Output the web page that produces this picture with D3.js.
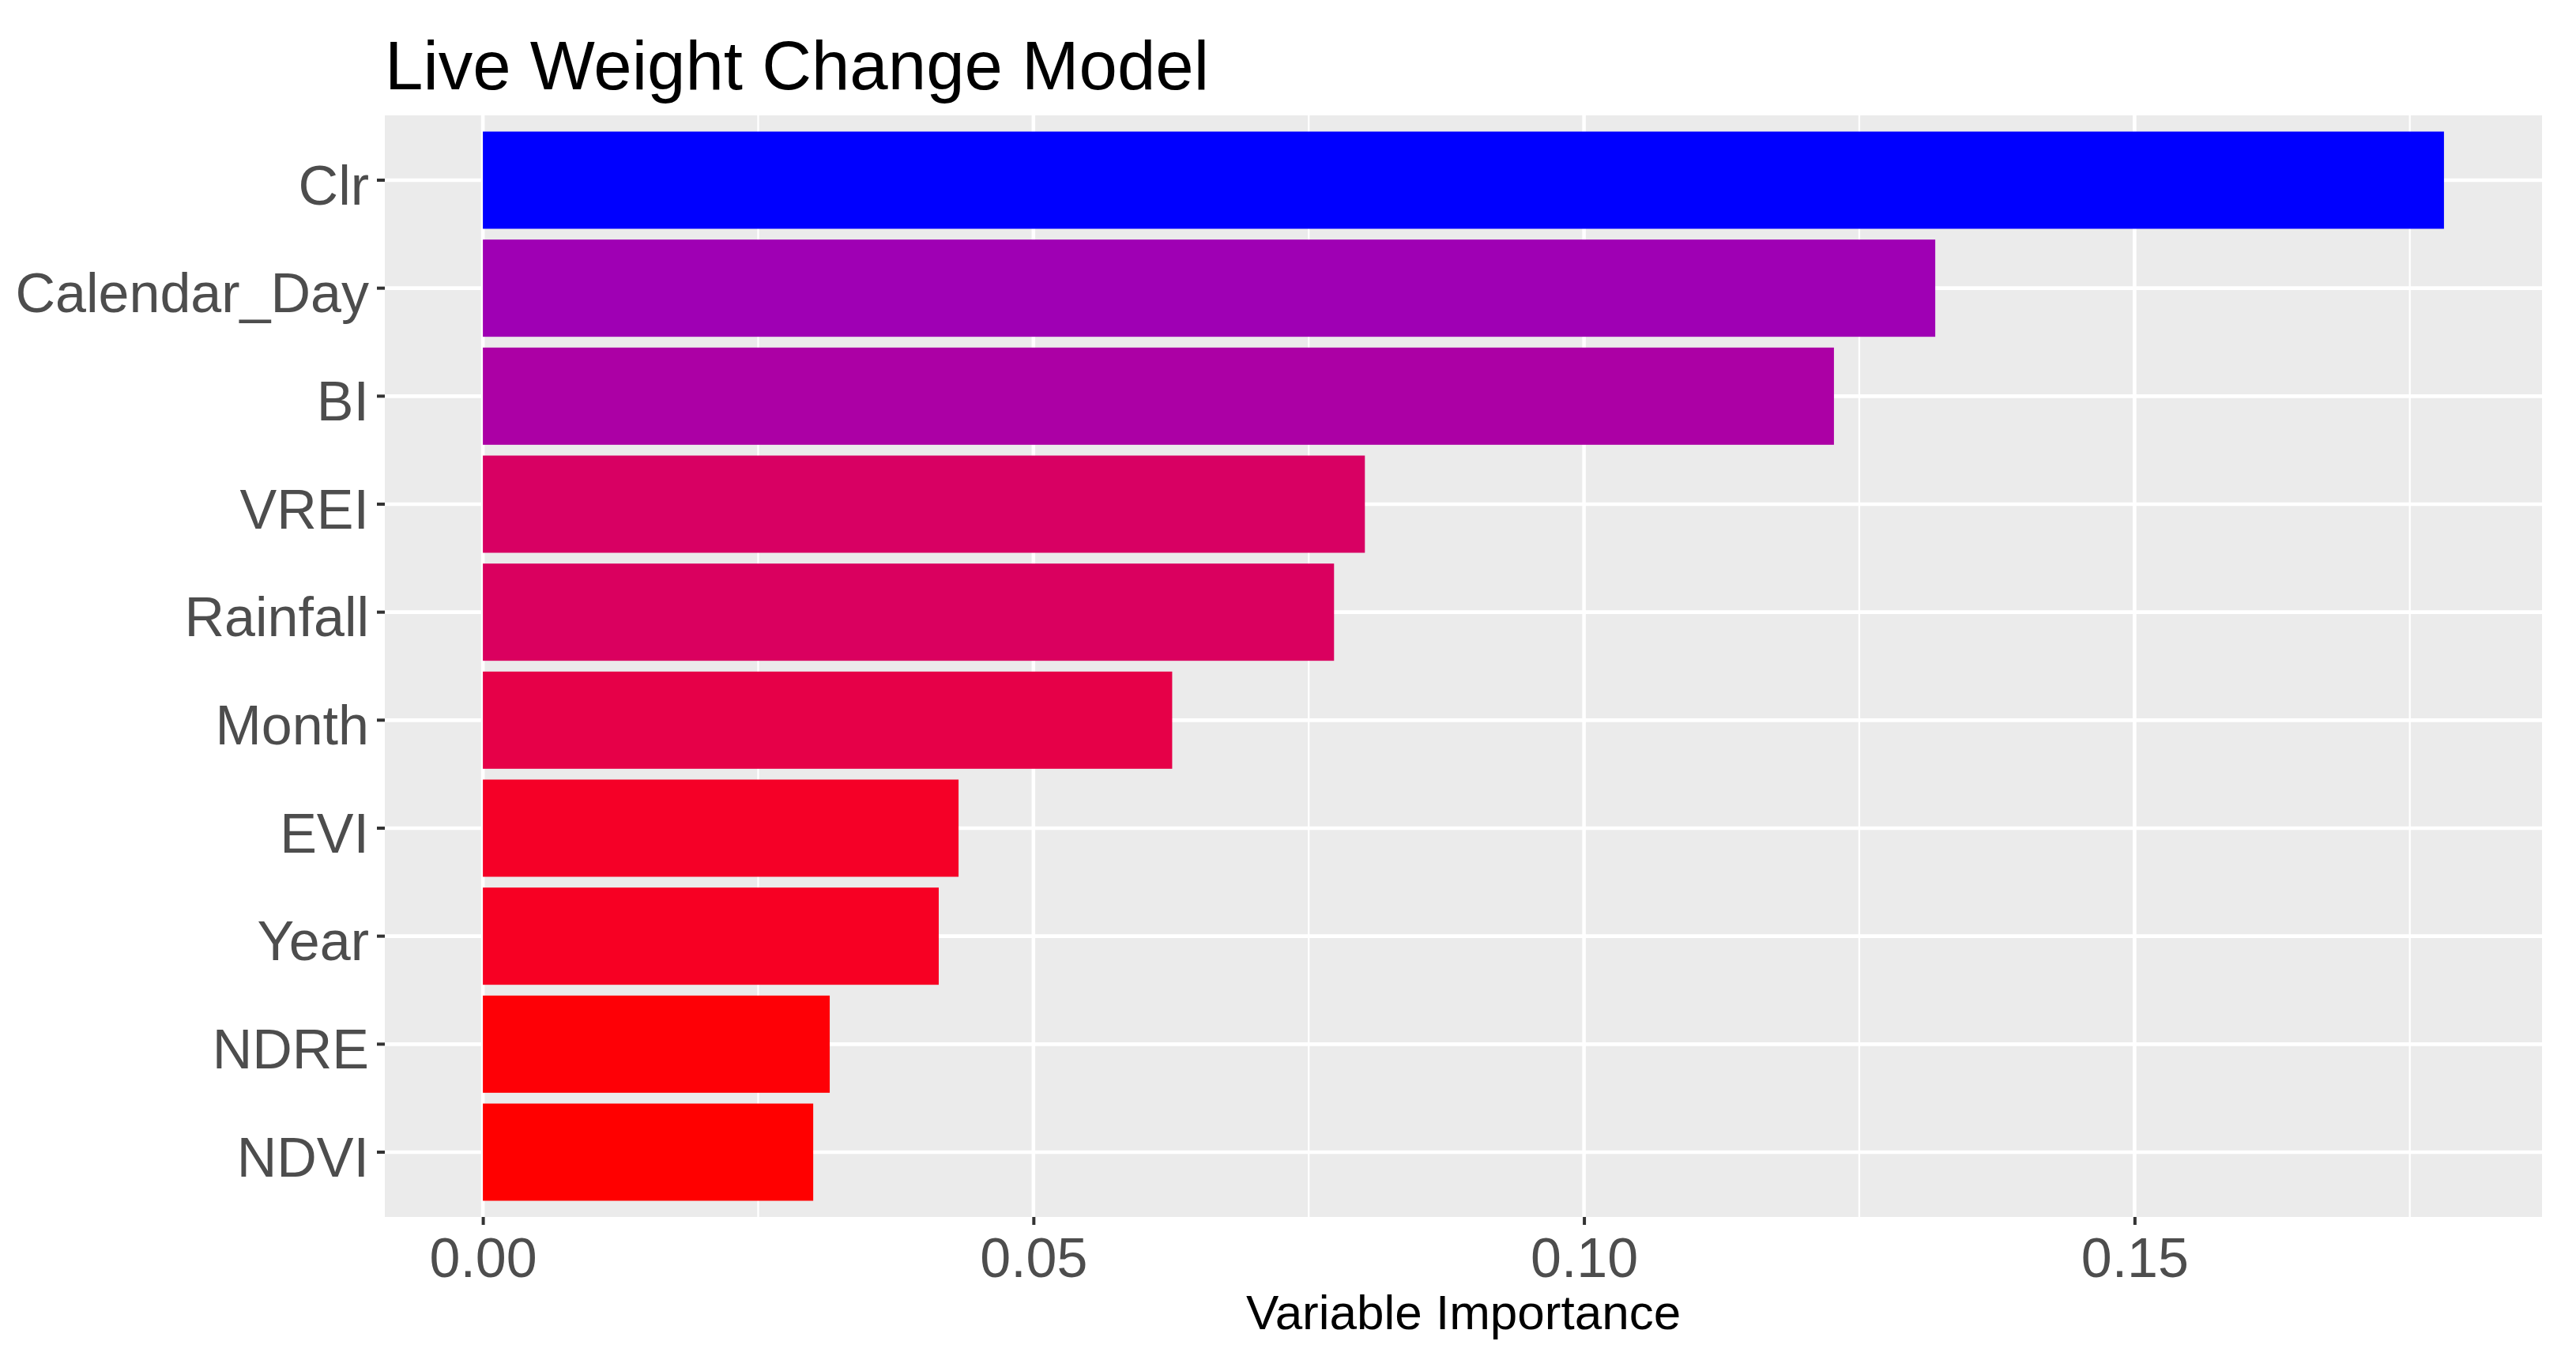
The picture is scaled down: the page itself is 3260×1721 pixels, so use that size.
<!DOCTYPE html>
<html>
<head>
<meta charset="utf-8">
<script src="https://cdn.jsdelivr.net/npm/d3@7"></script>
<style>
  body { margin: 0; background: #fff; }
  text { font-family: "Liberation Sans", Arial, sans-serif; }
</style>
</head>
<body>
<svg id="chart" width="3260" height="1721"></svg>
<script>
// data (top to bottom)
var variables = ["Clr", "Calendar_Day", "BI", "VREI", "Rainfall", "Month", "EVI", "Year", "NDRE", "NDVI"];
var importance = [0.1781, 0.1319, 0.1227, 0.0801, 0.0773, 0.0626, 0.0432, 0.0414, 0.0315, 0.0300];
var majorTicks = [0, 0.05, 0.10, 0.15];
var minorTicks = [0.025, 0.075, 0.125, 0.175];

var svg = d3.select("#chart");
var panel = { left: 487, right: 3217, top: 146, bottom: 1540 };

var maxV = d3.max(importance);
var x = d3.scaleLinear()
  .domain([-0.05 * maxV, maxV * 1.05])
  .range([panel.left, panel.right]);

var y = d3.scaleBand()
  .domain(variables)
  .range([panel.top, panel.bottom])
  .paddingInner(0.1)
  .paddingOuter(0.15);

// ggplot style gradient low = red, high = blue (Lab)
var fill = d3.scaleLinear()
  .domain(d3.extent(importance))
  .range(["red", "blue"])
  .interpolate(d3.interpolateLab);

// panel background
svg.append("rect")
  .attr("x", panel.left).attr("y", panel.top)
  .attr("width", panel.right - panel.left)
  .attr("height", panel.bottom - panel.top)
  .attr("fill", "#EBEBEB");

// minor grid
svg.selectAll(".minor").data(minorTicks).enter().append("line")
  .attr("x1", d => x(d)).attr("x2", d => x(d))
  .attr("y1", panel.top).attr("y2", panel.bottom)
  .attr("stroke", "#fff").attr("stroke-width", 2.3);

// major grid
svg.selectAll(".majorx").data(majorTicks).enter().append("line")
  .attr("x1", d => x(d)).attr("x2", d => x(d))
  .attr("y1", panel.top).attr("y2", panel.bottom)
  .attr("stroke", "#fff").attr("stroke-width", 4.6);

svg.selectAll(".majory").data(variables).enter().append("line")
  .attr("x1", panel.left).attr("x2", panel.right)
  .attr("y1", d => y(d) + y.bandwidth() / 2)
  .attr("y2", d => y(d) + y.bandwidth() / 2)
  .attr("stroke", "#fff").attr("stroke-width", 4.6);

// bars
svg.selectAll(".bar").data(variables).enter().append("rect")
  .attr("x", x(0))
  .attr("y", d => y(d))
  .attr("width", (d, i) => x(importance[i]) - x(0))
  .attr("height", y.bandwidth())
  .attr("fill", (d, i) => fill(importance[i]));

// axes
var xAxis = svg.append("g")
  .attr("transform", "translate(0," + panel.bottom + ")")
  .call(d3.axisBottom(x).tickValues(majorTicks).tickFormat(d3.format(".2f")).tickSizeOuter(0).tickSize(10).tickPadding(16));
xAxis.select(".domain").remove();
xAxis.selectAll(".tick line").attr("stroke", "#333").attr("stroke-width", 4);
xAxis.selectAll(".tick text")
  .attr("font-size", 70).attr("fill", "#4D4D4D")
  .attr("font-family", "Liberation Sans, Arial, sans-serif");

var yAxis = svg.append("g")
  .attr("transform", "translate(" + panel.left + ",0)")
  .call(d3.axisLeft(y).tickSizeOuter(0).tickSize(10).tickPadding(10));
yAxis.select(".domain").remove();
yAxis.selectAll(".tick line").attr("stroke", "#333").attr("stroke-width", 4);
yAxis.selectAll(".tick text")
  .attr("font-size", 70).attr("fill", "#4D4D4D")
  .attr("dy", "0.44em")
  .attr("font-family", "Liberation Sans, Arial, sans-serif");

// titles
svg.append("text")
  .attr("x", panel.left).attr("y", 113)
  .attr("font-size", 87).attr("fill", "#000")
  .text("Live Weight Change Model");

svg.append("text")
  .attr("x", (panel.left + panel.right) / 2).attr("y", 1682)
  .attr("text-anchor", "middle")
  .attr("font-size", 62).attr("fill", "#000")
  .text("Variable Importance");
</script>
</body>
</html>
